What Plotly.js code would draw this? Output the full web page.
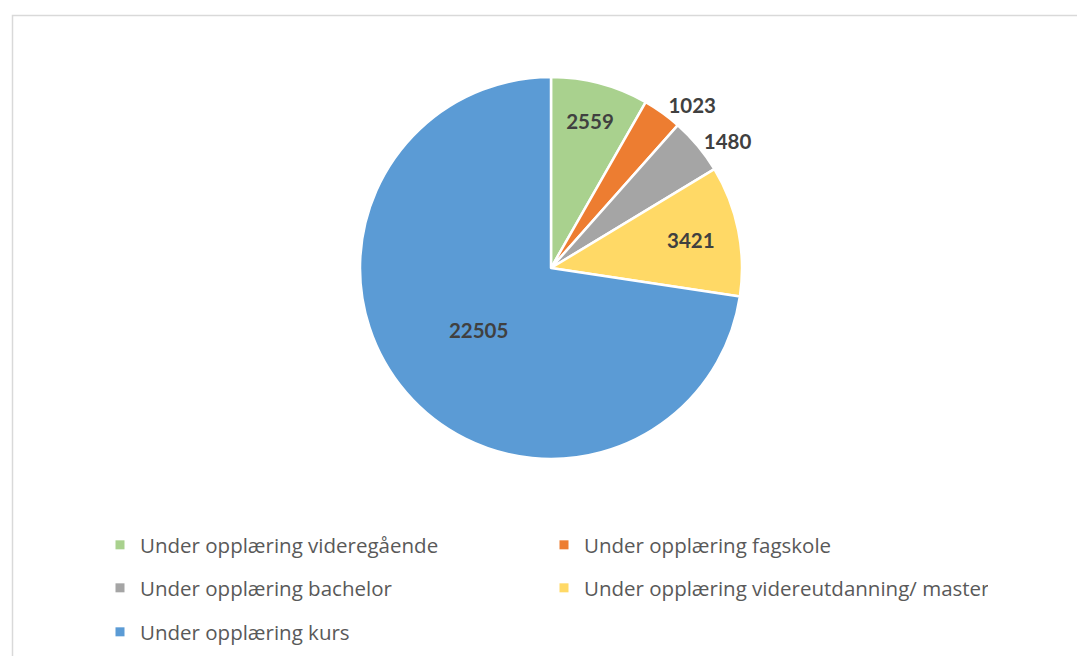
<!DOCTYPE html>
<html>
<head>
<meta charset="utf-8">
<script src="https://cdn.plot.ly/plotly-3.0.1.min.js"></script>
<style>html,body{margin:0;padding:0;background:#fff;}#chart{width:1077px;height:656px;}</style>
</head>
<body>
<div id="chart"></div>
<script>
const categories = [
  "Under opplæring videregående",
  "Under opplæring fagskole",
  "Under opplæring bachelor",
  "Under opplæring videreutdanning/ master",
  "Under opplæring kurs"
];
const values = [2559, 1023, 1480, 3421, 22505];
const colors = ["#A9D18E", "#ED7D31", "#A5A5A5", "#FFD966", "#5B9BD5"];
const labelPositions = ["inside", "outside", "outside", "inside", "inside"];
const legendRows = ["legend", "legend", "legend2", "legend2", "legend3"];

const W = 1077, H = 656;
const cx = 551, cy = 268, R = 191;

const labelFont = { family: "Lato, 'Open Sans', sans-serif", size: 20.5, color: "#404040", weight: "bold" };

const traces = [{
  type: "pie",
  labels: categories,
  values: values,
  sort: false,
  direction: "clockwise",
  rotation: 0,
  marker: { colors: colors, line: { color: "#ffffff", width: 2.5 } },
  textinfo: "value",
  texttemplate: "%{value:d}",
  textposition: labelPositions,
  insidetextorientation: "horizontal",
  textfont: labelFont,
  insidetextfont: labelFont,
  outsidetextfont: labelFont,
  showlegend: false,
  hoverinfo: "label+value",
  domain: { x: [(cx - R) / W, (cx + R) / W], y: [(H - cy - R) / H, (H - cy + R) / H] }
}];

categories.forEach((c, i) => {
  traces.push({
    type: "scatter",
    mode: "markers",
    x: [null], y: [null],
    name: c,
    legend: legendRows[i],
    marker: { symbol: "square", size: 9, color: colors[i] },
    showlegend: true,
    hoverinfo: "skip"
  });
});

const legendBase = {
  orientation: "h",
  entrywidth: 399,
  entrywidthmode: "pixels",
  x: 100 / W,
  xanchor: "left",
  yanchor: "middle",
  itemclick: false,
  itemdoubleclick: false,
  traceorder: "normal",
  font: { family: "'Open Sans', sans-serif", size: 20.5, color: "#595959" },
  bgcolor: "rgba(0,0,0,0)"
};

const layout = {
  width: W, height: H,
  margin: { l: 0, r: 0, t: 0, b: 0 },
  paper_bgcolor: "#ffffff",
  plot_bgcolor: "#ffffff",
  xaxis: { visible: false }, yaxis: { visible: false },
  legend: Object.assign({}, legendBase, { y: 1 - 545 / H }),
  legend2: Object.assign({}, legendBase, { y: 1 - 588 / H }),
  legend3: Object.assign({}, legendBase, { y: 1 - 632 / H }),
  shapes: [{
    type: "rect", xref: "paper", yref: "paper",
    x0: 12.5 / W, x1: 1.01, y0: -0.02, y1: 1 - 15.5 / H,
    line: { color: "#D9D9D9", width: 1.5 }
  }]
};

Plotly.newPlot("chart", traces, layout, { displayModeBar: false, staticPlot: true });
</script>
</body>
</html>
